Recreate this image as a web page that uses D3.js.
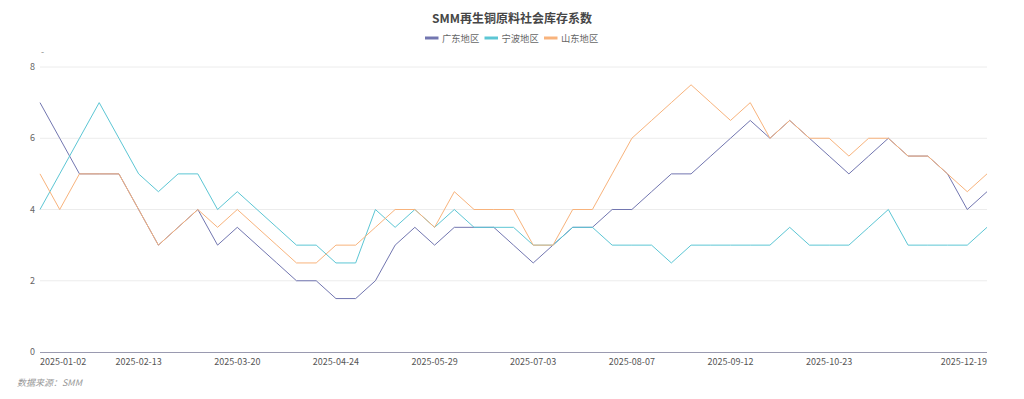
<!DOCTYPE html>
<html>
<head>
<meta charset="utf-8">
<script src="https://cdn.jsdelivr.net/npm/d3@7"></script>
<style>
  html, body { margin: 0; padding: 0; background: #fff; }
  svg { display: block; font-family: "Noto Sans CJK SC", "Noto Sans", sans-serif; }
</style>
</head>
<body>
<div id="chart"></div>
<script>
// Data
const dates = [
  '2025-01-02','2025-01-09','2025-01-16','2025-01-23','2025-02-06','2025-02-13',
  '2025-02-20','2025-02-27','2025-03-06','2025-03-13','2025-03-20',
  '2025-03-27','2025-04-03','2025-04-10','2025-04-17','2025-04-24',
  '2025-04-30','2025-05-08','2025-05-15','2025-05-22','2025-05-29',
  '2025-06-05','2025-06-12','2025-06-19','2025-06-26','2025-07-03',
  '2025-07-10','2025-07-17','2025-07-24','2025-07-31','2025-08-07',
  '2025-08-14','2025-08-21','2025-08-28','2025-09-04','2025-09-12',
  '2025-09-18','2025-09-25','2025-10-09','2025-10-16','2025-10-23',
  '2025-10-30','2025-11-06','2025-11-13','2025-11-20','2025-11-27',
  '2025-12-04','2025-12-11','2025-12-19'
];
const guangdong = [7,6,5,5,5,4,3,3.5,4,3,3.5,3,2.5,2,2,1.5,1.5,2,3,3.5,3,3.5,3.5,3.5,3,2.5,3,3.5,3.5,4,4,4.5,5,5,5.5,6,6.5,6,6.5,6,5.5,5,5.5,6,5.5,5.5,5,4,4.5];
const ningbo    = [4,5,6,7,6,5,4.5,5,5,4,4.5,4,3.5,3,3,2.5,2.5,4,3.5,4,3.5,4,3.5,3.5,3.5,3,3,3.5,3.5,3,3,3,2.5,3,3,3,3,3,3.5,3,3,3,3.5,4,3,3,3,3,3.5];
const shandong  = [5,4,5,5,5,4,3,3.5,4,3.5,4,3.5,3,2.5,2.5,3,3,3.5,4,4,3.5,4.5,4,4,4,3,3,4,4,5,6,6.5,7,7.5,7,6.5,7,6,6.5,6,6,5.5,6,6,5.5,5.5,5,4.5,5];
const seriesNames = ['广东地区', '宁波地区', '山东地区'];
const yTicks = [0, 2, 4, 6, 8];
const labelIdx = [0, 5, 10, 15, 20, 25, 30, 35, 40, 48];

const colors = ['#7276b0', '#5cc6d4', '#f8b37c'];
const series = [guangdong, ningbo, shandong];

const width = 1024, height = 399;
const svg = d3.select('#chart').append('svg')
  .attr('width', width).attr('height', height);

const x = d3.scalePoint().domain(dates).range([40, 987]);
const y = d3.scaleLinear().domain([0, 8]).range([352, 67]);

// Title
svg.append('text')
  .attr('x', 512).attr('y', 23)
  .attr('text-anchor', 'middle')
  .attr('font-size', 12).attr('font-weight', 'bold')
  .attr('fill', '#464646')
  .text('SMM再生铜原料社会库存系数');

// Legend
const legend = svg.append('g');
seriesNames.forEach((name, i) => {
  const lx = 425 + i * 59.5;
  legend.append('line')
    .attr('x1', lx).attr('x2', lx + 13.5)
    .attr('y1', 38).attr('y2', 38)
    .attr('stroke', colors[i]).attr('stroke-width', 3);
  legend.append('text')
    .attr('x', lx + 17).attr('y', 41.5)
    .attr('font-size', 9.3).attr('fill', '#666')
    .text(name);
});

// Grid
svg.append('g').selectAll('line')
  .data(yTicks.filter(d => d > 0))
  .join('line')
    .attr('x1', 40).attr('x2', 987)
    .attr('y1', d => y(d)).attr('y2', d => y(d))
    .attr('stroke', '#ececec').attr('stroke-width', 1);

// Y axis labels
svg.append('g').selectAll('text')
  .data(yTicks)
  .join('text')
    .attr('x', 35).attr('y', d => y(d) + 3)
    .attr('text-anchor', 'end')
    .attr('font-size', 9).attr('fill', '#666')
    .text(d => d);

svg.append('text')
  .attr('x', 41).attr('y', 55)
  .attr('font-size', 9).attr('fill', '#888')
  .text('-');

// X axis
svg.append('line')
  .attr('x1', 40).attr('x2', 987)
  .attr('y1', 352.5).attr('y2', 352.5)
  .attr('stroke', '#9a9ab0').attr('stroke-width', 1);

svg.append('g').selectAll('text')
  .data(labelIdx)
  .join('text')
    .attr('x', i => x(dates[i]))
    .attr('y', 365)
    .attr('text-anchor', (i, k) => k === 0 ? 'start' : (k === labelIdx.length - 1 ? 'end' : 'middle'))
    .attr('font-size', 9).attr('fill', '#555')
    .text(i => dates[i]);

// Lines
const line = d3.line()
  .x((d, i) => x(dates[i]))
  .y(d => y(d));

series.forEach((s, i) => {
  svg.append('path')
    .datum(s)
    .attr('fill', 'none')
    .attr('stroke', colors[i])
    .attr('stroke-width', 1)
    .attr('d', line);
});

// Source
svg.append('text')
  .attr('x', 17).attr('y', 386)
  .attr('font-size', 9).attr('font-style', 'italic')
  .attr('fill', '#999')
  .text('数据来源：SMM');
</script>
</body>
</html>
